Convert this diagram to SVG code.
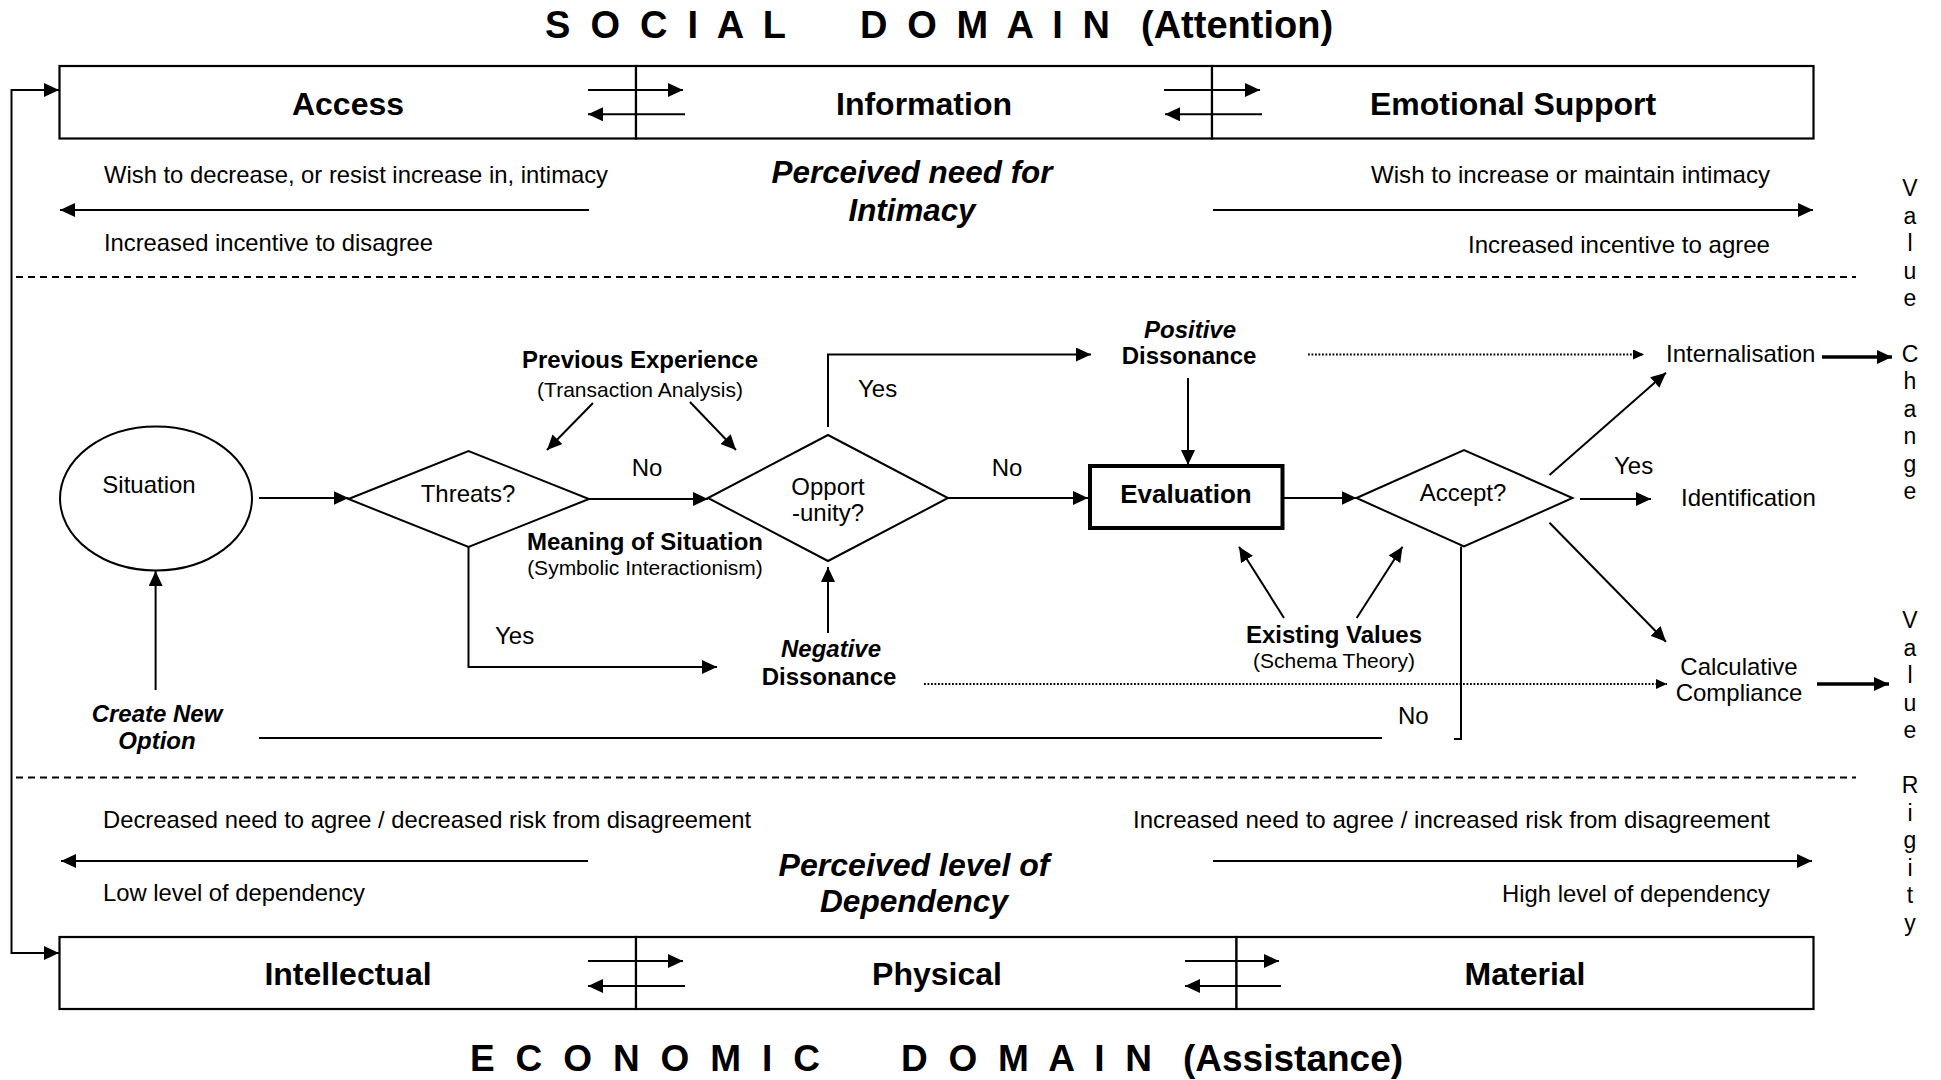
<svg xmlns="http://www.w3.org/2000/svg" width="1941" height="1080" viewBox="0 0 1941 1080">
<style>
text{font-family:"Liberation Sans",Arial,Helvetica,sans-serif;fill:#000}
.ttl{font-size:38px;font-weight:bold}
.ttl2{font-size:37px;font-weight:bold}
.bx{font-size:32px;font-weight:bold;text-anchor:middle}
.r{font-size:24px}
.c{text-anchor:middle}
.b{font-size:24px;font-weight:bold}
.bi{font-size:24px;font-weight:bold;font-style:italic}
.big{font-size:31px;font-weight:bold;font-style:italic;text-anchor:middle}
.p{font-size:21px}
.v{font-size:23px;text-anchor:middle}
.cell{fill:#fff;stroke:#000;stroke-width:2.2}
.ln{fill:none;stroke:#000;stroke-width:2}
.thick{fill:none;stroke:#000;stroke-width:3.5}
.dash{fill:none;stroke:#000;stroke-width:2;stroke-dasharray:7 5}
.dot{fill:none;stroke:#000;stroke-width:1.8;stroke-dasharray:1.8 1.7}
.shape{fill:#fff;stroke:#000;stroke-width:2}
</style>
<defs>
<marker id="ah" markerUnits="userSpaceOnUse" markerWidth="16" markerHeight="14" refX="15" refY="7" orient="auto"><path d="M0,0 L15,7 L0,14 z" fill="#000"/></marker>
<marker id="ahs" markerUnits="userSpaceOnUse" markerWidth="12" markerHeight="10" refX="11" refY="5" orient="auto"><path d="M0,0 L11,5 L0,10 z" fill="#000"/></marker>
</defs>
<rect width="1941" height="1080" fill="#fff"/>

<!-- Titles -->
<g id="social-title">
<text class="ttl" x="545" y="38" textLength="241" lengthAdjust="spacing">S O C I A L</text>
<text class="ttl" x="860" y="38" textLength="250" lengthAdjust="spacing">D O M A I N</text>
<text class="ttl" x="1141" y="38">(Attention)</text>
</g>
<g id="economic-title">
<text class="ttl2" x="470" y="1071" textLength="350" lengthAdjust="spacing">E C O N O M I C</text>
<text class="ttl2" x="901" y="1071" textLength="251" lengthAdjust="spacing">D O M A I N</text>
<text class="ttl2" x="1183" y="1071">(Assistance)</text>
</g>

<!-- Social domain boxes -->
<g id="access"><rect class="cell" x="59.5" y="66" width="576.5" height="72.5"/><text class="bx" x="348" y="115">Access</text></g>
<g id="information"><rect class="cell" x="636" y="66" width="576" height="72.5"/><text class="bx" x="924" y="115">Information</text></g>
<g id="emotional-support"><rect class="cell" x="1212" y="66" width="601.5" height="72.5"/><text class="bx" x="1513" y="115">Emotional Support</text></g>

<!-- Economic domain boxes -->
<g id="intellectual"><rect class="cell" x="59.5" y="937" width="576.5" height="72"/><text class="bx" x="348" y="985">Intellectual</text></g>
<g id="physical"><rect class="cell" x="636" y="937" width="600.5" height="72"/><text class="bx" x="937" y="985">Physical</text></g>
<g id="material"><rect class="cell" x="1236.5" y="937" width="577" height="72"/><text class="bx" x="1525" y="985">Material</text></g>

<!-- Intimacy band -->
<g id="intimacy">
<text class="r" x="104" y="183" textLength="504" lengthAdjust="spacingAndGlyphs">Wish to decrease, or resist increase in, intimacy</text>
<text class="r" x="104" y="251" textLength="329" lengthAdjust="spacingAndGlyphs">Increased incentive to disagree</text>
<text class="r" x="1371" y="183" textLength="399" lengthAdjust="spacingAndGlyphs">Wish to increase or maintain intimacy</text>
<text class="r" x="1468" y="253" textLength="302" lengthAdjust="spacingAndGlyphs">Increased incentive to agree</text>
<text class="big" x="912" y="183" textLength="281" lengthAdjust="spacingAndGlyphs">Perceived need for</text>
<text class="big" x="912" y="221" textLength="127" lengthAdjust="spacingAndGlyphs">Intimacy</text>
</g>

<!-- Dependency band -->
<g id="dependency">
<text class="r" x="103" y="828" textLength="648" lengthAdjust="spacingAndGlyphs">Decreased need to agree / decreased risk from disagreement</text>
<text class="r" x="103" y="901" textLength="262" lengthAdjust="spacingAndGlyphs">Low level of dependency</text>
<text class="r" x="1133" y="828" textLength="637" lengthAdjust="spacingAndGlyphs">Increased need to agree / increased risk from disagreement</text>
<text class="r" x="1502" y="902" textLength="268" lengthAdjust="spacingAndGlyphs">High level of dependency</text>
<text class="big" x="914" y="876" textLength="271" lengthAdjust="spacingAndGlyphs">Perceived level of</text>
<text class="big" x="914" y="912" textLength="188" lengthAdjust="spacingAndGlyphs">Dependency</text>
</g>

<!-- Separators -->
<g id="separators">
<line class="dash" x1="16" y1="277" x2="1856" y2="277"/>
<line class="dash" x1="16" y1="777.5" x2="1856" y2="777.5"/>
</g>

<!-- Flow nodes -->
<g id="situation"><ellipse class="shape" cx="156" cy="498.5" rx="96" ry="72"/><text class="r c" x="149" y="493">Situation</text></g>
<g id="threats"><polygon class="shape" points="348.5,499 468.5,451 589,499 468.5,547"/><text class="r c" x="468" y="502">Threats?</text></g>
<g id="opportunity"><polygon class="shape" points="708,498 828,435 948,498 828,561"/><text class="r c" x="828" y="495">Opport</text><text class="r c" x="828" y="521">-unity?</text></g>
<g id="evaluation"><rect x="1090" y="466" width="192.5" height="62" fill="#fff" stroke="#000" stroke-width="4"/><text class="b c" x="1186" y="503" style="font-size:26px">Evaluation</text></g>
<g id="accept"><polygon class="shape" points="1356.5,498 1464,450 1572.5,498 1464,546.5"/><text class="r c" x="1463" y="501">Accept?</text></g>
<g id="previous-experience"><text class="b c" x="640" y="368">Previous Experience</text><text class="p c" x="640" y="397">(Transaction Analysis)</text></g>
<g id="meaning-of-situation"><text class="b c" x="645" y="550">Meaning of Situation</text><text class="p c" x="645" y="575">(Symbolic Interactionism)</text></g>
<g id="positive-dissonance"><text class="bi c" x="1190" y="338">Positive</text><text class="b c" x="1189" y="364">Dissonance</text></g>
<g id="negative-dissonance"><text class="bi c" x="831" y="657">Negative</text><text class="b c" x="829" y="685">Dissonance</text></g>
<g id="existing-values"><text class="b c" x="1334" y="643">Existing Values</text><text class="p c" x="1334" y="668">(Schema Theory)</text></g>
<g id="create-new-option"><text class="bi c" x="157" y="722">Create New</text><text class="bi c" x="157" y="749">Option</text></g>
<g id="internalisation"><text class="r" x="1666" y="362">Internalisation</text></g>
<g id="identification"><text class="r" x="1681" y="506">Identification</text></g>
<g id="calculative-compliance"><text class="r c" x="1739" y="675">Calculative</text><text class="r c" x="1739" y="701">Compliance</text></g>

<!-- Vertical side labels -->
<g id="value-change">
<text class="v"><tspan x="1910" y="196">V</tspan><tspan x="1910" y="223.5">a</tspan><tspan x="1910" y="251">l</tspan><tspan x="1910" y="278.5">u</tspan><tspan x="1910" y="306">e</tspan></text>
<text class="v"><tspan x="1910" y="361.5">C</tspan><tspan x="1910" y="389">h</tspan><tspan x="1910" y="416.5">a</tspan><tspan x="1910" y="444">n</tspan><tspan x="1910" y="471.5">g</tspan><tspan x="1910" y="499">e</tspan></text>
</g>
<g id="value-rigidity">
<text class="v"><tspan x="1910" y="628">V</tspan><tspan x="1910" y="655.5">a</tspan><tspan x="1910" y="683">l</tspan><tspan x="1910" y="710.5">u</tspan><tspan x="1910" y="738">e</tspan></text>
<text class="v"><tspan x="1910" y="793">R</tspan><tspan x="1910" y="820.5">i</tspan><tspan x="1910" y="848">g</tspan><tspan x="1910" y="875.5">i</tspan><tspan x="1910" y="903">t</tspan><tspan x="1910" y="930.5">y</tspan></text>
</g>

<!-- Connector labels -->
<g id="labels">
<text class="r c" x="647" y="476">No</text>
<text class="r" x="495" y="644">Yes</text>
<text class="r" x="858" y="397">Yes</text>
<text class="r c" x="1007" y="476">No</text>
<text class="r" x="1614" y="474">Yes</text>
<text class="r" x="1398" y="724">No</text>
</g>

<!-- Connectors -->
<g id="connectors">
<path class="ln" d="M11.5,520 V90 H59" marker-end="url(#ah)"/>
<path class="ln" d="M11.5,520 V953 H59" marker-end="url(#ah)"/>
<line class="ln" x1="588" y1="90" x2="683" y2="90" marker-end="url(#ah)"/>
<line class="ln" x1="685" y1="114.3" x2="588" y2="114.3" marker-end="url(#ah)"/>
<line class="ln" x1="1164" y1="90" x2="1260" y2="90" marker-end="url(#ah)"/>
<line class="ln" x1="1262" y1="114.3" x2="1165" y2="114.3" marker-end="url(#ah)"/>
<line class="ln" x1="588" y1="961" x2="683" y2="961" marker-end="url(#ah)"/>
<line class="ln" x1="685" y1="986" x2="588" y2="986" marker-end="url(#ah)"/>
<line class="ln" x1="1185" y1="961" x2="1279" y2="961" marker-end="url(#ah)"/>
<line class="ln" x1="1281" y1="986" x2="1185" y2="986" marker-end="url(#ah)"/>
<line class="ln" x1="589" y1="210" x2="60" y2="210" marker-end="url(#ah)"/>
<line class="ln" x1="1213" y1="210" x2="1813" y2="210" marker-end="url(#ah)"/>
<line class="ln" x1="588" y1="861" x2="61" y2="861" marker-end="url(#ah)"/>
<line class="ln" x1="1213" y1="861" x2="1812" y2="861" marker-end="url(#ah)"/>
<line class="ln" x1="259" y1="498" x2="348.5" y2="498" marker-end="url(#ah)"/>
<line class="ln" x1="589" y1="499" x2="708" y2="499" marker-end="url(#ah)"/>
<line class="ln" x1="593" y1="403" x2="547" y2="450" marker-end="url(#ah)"/>
<line class="ln" x1="690" y1="402" x2="736" y2="450" marker-end="url(#ah)"/>
<path class="ln" d="M468.5,547 V667 H717" marker-end="url(#ah)"/>
<line class="ln" x1="155.6" y1="690" x2="155.6" y2="571" marker-end="url(#ah)"/>
<line class="ln" x1="259" y1="738" x2="1382" y2="738"/>
<path class="ln" d="M828,427 V354.5 H1091" marker-end="url(#ah)"/>
<line class="ln" x1="828" y1="633" x2="828" y2="567" marker-end="url(#ah)"/>
<line class="ln" x1="948" y1="498" x2="1088" y2="498" marker-end="url(#ah)"/>
<line class="ln" x1="1188" y1="378" x2="1188" y2="465" marker-end="url(#ah)"/>
<line class="dot" x1="1308" y1="354.5" x2="1644" y2="354.5" marker-end="url(#ahs)"/>
<line class="thick" x1="1822" y1="357" x2="1892" y2="357" marker-end="url(#ah)"/>
<line class="ln" x1="1284" y1="498" x2="1356.5" y2="498" marker-end="url(#ah)"/>
<line class="ln" x1="1549.5" y1="475" x2="1666" y2="372.7" marker-end="url(#ah)"/>
<line class="ln" x1="1580" y1="499" x2="1651" y2="499" marker-end="url(#ah)"/>
<line class="ln" x1="1549.5" y1="522.7" x2="1666" y2="641.7" marker-end="url(#ah)"/>
<line class="thick" x1="1817" y1="684" x2="1889" y2="684" marker-end="url(#ah)"/>
<line class="dot" x1="924" y1="684" x2="1667" y2="684" marker-end="url(#ahs)"/>
<line class="ln" x1="1284" y1="618" x2="1239" y2="546.7" marker-end="url(#ah)"/>
<line class="ln" x1="1356.7" y1="618" x2="1402.5" y2="546.7" marker-end="url(#ah)"/>
<path class="ln" d="M1461,546.5 V739 H1454"/>
</g>
</svg>
